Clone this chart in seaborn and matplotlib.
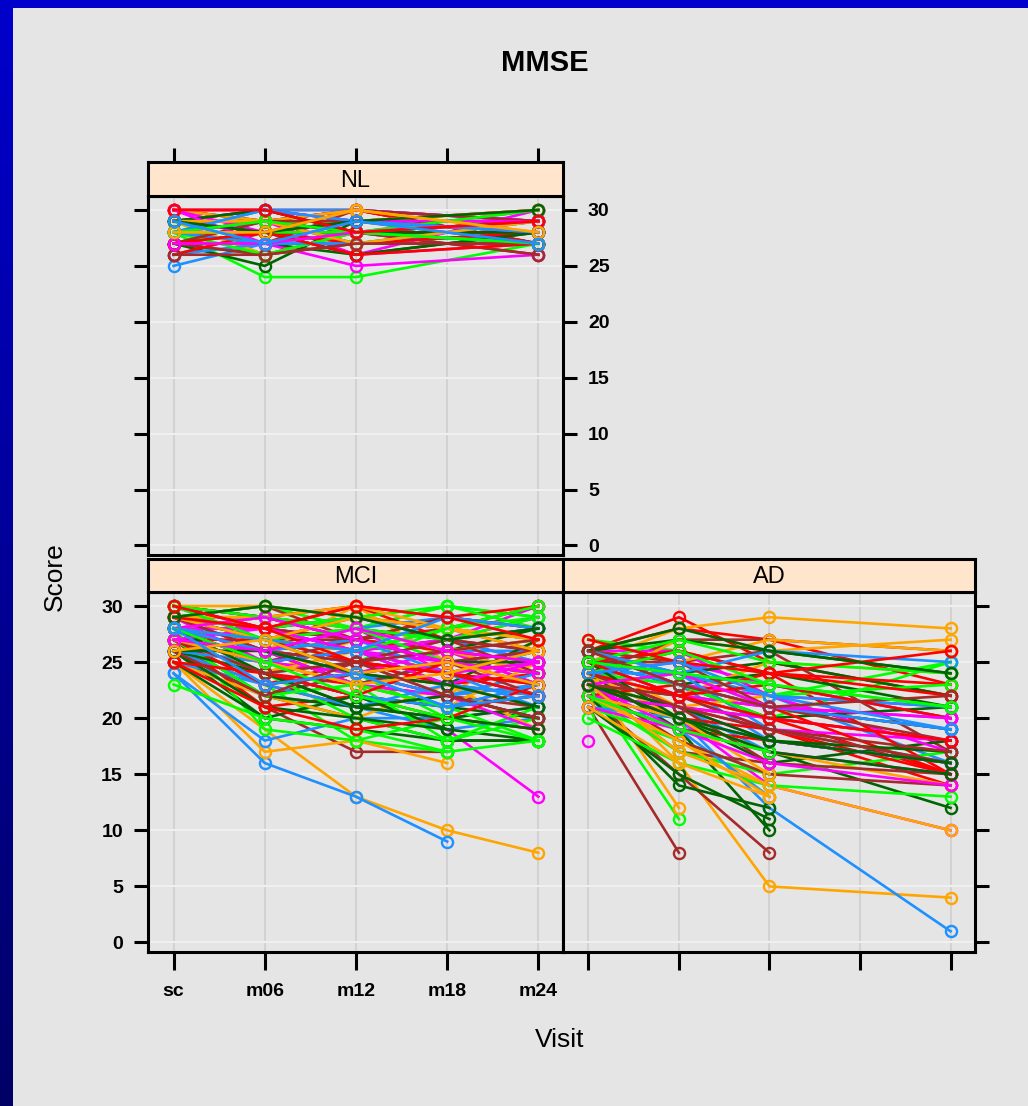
import numpy as np
import pandas as pd
import matplotlib
matplotlib.use("Agg")
import matplotlib.pyplot as plt
from matplotlib.colors import LinearSegmentedColormap
import seaborn as sns

# ---------------- data ----------------
visits = ["sc", "m06", "m12", "m18", "m24"]
nl_visits = ["sc", "m06", "m12", "m24"]
ad_visits = ["sc", "m06", "m12", "m24"]
mci_visits = ["sc", "m06", "m12", "m18", "m24"]

N = None
nl_scores = [
    [30, 30, 30, 29], [29, 28, 29, 30], [25, 27, 28, 28], [30, 29, 30, 27],
    [28, 27, 26, 28], [28, 24, 24, 27], [29, 30, 28, 30], [29, 29, 29, 28],
    [27, 28, 27, 29], [26, 28, 29, 28], [29, 28, 28, 26], [28, 29, 27, 28],
    [29, 26, 27, 29], [28, 28, 26, 27], [28, 29, 28, 27], [27, 28, 29, 28],
    [29, 30, 30, 29], [27, 27, 30, 27], [27, 26, 28, 29], [30, 29, 29, 29],
    [28, 29, 26, 30], [29, 28, 30, 27], [28, 27, 29, 30], [28, 29, 28, 29],
    [29, 30, 29, 28], [27, 25, 29, 28], [28, 27, 28, 28], [27, 27, 25, 26],
    [30, 29, 28, 28], [28, 28, 29, 28], [27, 28, 28, 27], [28, 27, 28, 26],
    [29, 29, 28, 29], [29, 27, 28, 29], [30, 30, 29, 30], [27, 28, 28, 28],
    [29, 26, 28, 29], [26, 27, 27, 28], [27, 26, 27, 27], [28, 28, 29, 29],
    [29, 27, 28, 29], [28, 29, 30, 29], [29, 28, 27, 28], [30, 29, 29, 30],
    [28, 30, 28, 27], [27, 29, 30, 29], [29, 28, 26, 28], [28, 26, 28, 27],
    [30, 28, 29, 29], [26, 28, 28, 29], [29, 29, 30, 28], [28, 27, 27, 29],
    [27, 29, 29, 27], [29, 30, 28, 28], [28, 28, 28, 30], [30, 27, 29, 28],
    [27, 28, 26, 27], [29, 29, 27, 29], [28, 30, 29, 28], [26, 26, 27, 27],
    [29, 28, 29, 30], [28, 29, 28, 27], [27, 27, 28, 29], [30, 30, 28, 29],
    [28, 28, 30, 28], [29, 27, 29, 27],
]

mci_scores = [
    [29, 28, 29, 28, 27], [25, N, 13, 10, 8], [24, 16, 13, 9, N], [26, 21, 17, 17, N],
    [26, 22, 20, 18, 18], [27, 23, 18, 17, N], [27, 24, 22, 19, 13], [28, 26, 25, 24, 23],
    [25, 17, 18, 16, N], [24, 18, 20, 20, 21], [28, 27, 27, 26, 24], [29, 29, 28, 27, 28],
    [28, 25, 24, 20, 19], [30, 28, 29, 27, 30], [27, 24, 23, 22, 20], [26, 26, 30, 25, 26],
    [25, 22, 21, 19, 20], [27, 25, 23, 21, 22], [26, 20, 19, 18, 18], [28, 19, 18, 20, N],
    [29, 27, 26, 27, 25], [27, 21, 22, 20, 19], [28, 26, 27, 25, 25], [29, 28, 26, 28, 27],
    [26, 24, 22, 21, 22], [25, 20, 22, 21, 20], [29, 30, 28, 30, 29], [28, 26, 25, 23, 21],
    [30, 29, 30, 29, 28], [27, 26, 24, 22, 27], [28, 27, 25, 26, 26], [29, 30, 27, 26, 23],
    [27, 25, 26, 24, 26], [28, 27, 28, 30, 29], [29, 28, 27, 25, 24], [26, 23, 25, 23, 24],
    [25, 22, 20, 23, 21], [28, 28, 29, 27, 28], [29, 26, 24, 22, 21], [27, 24, 22, 19, 18],
    [28, 26, 23, 18, 20], [30, 27, 28, 26, 25], [29, 28, 27, 29, 30], [27, 25, 24, 23, 19],
    [26, 24, 25, 22, 23], [28, 27, 26, 24, 22], [27, 26, 23, 25, 24], [29, 30, 29, 28, 29],
    [28, 25, 24, 26, 23], [27, 23, 21, 22, N], [26, 24, 27, 26, 24], [30, 29, 28, 29, 28],
    [28, 26, 27, 28, 26], [27, 22, 21, 20, 21], [29, 27, 25, 28, 27], [26, 25, 24, 22, 20],
    [29, 28, 30, 27, 26], [28, 24, 26, 24, 25], [27, 26, 25, 27, 25], [26, 22, 24, 23, 22],
    [28, 29, 27, 26, 28], [27, 24, 20, 18, 21], [29, 26, 28, 24, 22], [28, 27, 29, 28, 30],
    [26, 25, 23, 21, 25], [25, 23, 24, 22, 24], [27, 26, 23, 25, 22], [28, 25, 26, 23, 27],
    [23, 20, 19, 17, 18], [30, 28, 26, 25, 26], [30, 29, 27, 26, 25], [29, 27, 28, 26, 27],
    [28, 24, 22, 21, 23], [27, 25, 26, 27, 24], [26, 21, 20, 19, N], [29, 28, 29, 30, 28],
    [28, 26, 23, 22, 19], [27, 27, 25, 24, 23], [30, 30, 29, 28, 27], [26, 23, 21, 23, 22],
    [28, 25, 27, 25, 26], [29, 27, 24, 25, 25], [27, 22, 23, 21, 18], [28, 28, 26, 27, 29],
    [25, 21, 19, 20, 23], [29, 29, 28, 26, 27], [27, 26, 27, 24, 21], [30, 28, 27, 29, 28],
    [26, 24, 21, 20, 19], [28, 27, 28, 25, 24], [29, 25, 26, 23, 25], [27, 23, 24, 25, 23],
    [28, 29, 30, 28, 27], [26, 25, 26, 24, 22], [29, 26, 25, 27, 26], [28, 24, 21, 22, 20],
    [30, 29, 28, 27, 29], [27, 28, 26, 24, 25], [25, 24, 22, 25, 24], [29, 27, 29, 28, 26],
    [28, 26, 24, 21, 23], [27, 24, 25, 26, 27], [26, 26, 24, 23, 21], [30, 27, 26, 28, 30],
    [28, 29, 27, 25, 24], [29, 28, 25, 24, 22], [27, 25, 23, 24, 26], [28, 27, 26, 29, 28],
    [26, 22, 25, 22, 20], [29, 30, 29, 27, 28], [28, 25, 22, 20, 18], [27, 26, 28, 26, 25],
    [30, 28, 30, 29, 27], [26, 27, 24, 25, 23], [28, 23, 24, 21, 22],
]

ad_scores = [
    [25, 22, 20, 15], [24, 16, 5, 4], [24, 20, 12, 1], [22, 15, 8, N],
    [24, 19, 10, N], [23, 11, N, N], [18, N, N, N], [26, 29, 25, 22],
    [24, 12, N, N], [25, 24, 22, 16], [21, 8, N, N], [22, 14, 12, N],
    [27, 26, 22, 25], [23, 20, 14, 10], [26, 28, 27, 23], [22, 18, 14, 10],
    [25, 23, 18, 16], [24, 27, 27, 26], [23, 20, 17, 12], [26, 24, 21, 19],
    [24, 25, 23, 20], [23, 21, 19, 14], [25, 28, 29, 28], [22, 21, 17, N],
    [25, 25, 26, 17], [21, 15, 11, N], [24, 22, 20, 25], [26, 26, 22, 21],
    [22, 19, 18, 16], [23, 27, 26, 27], [24, 23, 21, 19], [23, 17, 16, N],
    [25, 24, 25, 22], [22, 17, 15, N], [25, 22, 19, 18], [24, 26, 24, 23],
    [23, 22, 25, 24], [26, 24, 23, 20], [24, 21, 20, 18], [22, 20, 16, 18],
    [21, 18, 15, 17], [25, 23, 22, 17], [23, 20, 19, 15], [26, 25, 27, 26],
    [22, 19, 13, N], [24, 22, 21, 19], [25, 23, 24, 21], [20, 16, 14, 13],
    [24, 21, 18, 16], [23, 22, 24, 15], [24, 20, 17, 14], [25, 24, 19, 16],
    [22, 21, 16, 15], [26, 23, 20, 21], [23, 24, 22, 23], [24, 22, 21, 20],
    [22, 23, 21, 15], [25, 21, 22, N], [21, 20, 18, 16], [23, 18, 15, 14],
    [26, 27, 26, 24], [24, 23, 20, N], [23, 19, 17, 15], [25, 26, 24, 22],
    [22, 20, 15, N], [24, 24, 22, 21], [26, 25, 21, 18], [23, 21, 18, 17],
    [25, 27, 25, 24], [21, 19, 16, 14], [24, 22, 23, 20], [22, 18, 13, N],
    [26, 24, 26, 25], [23, 22, 19, 16], [25, 20, 17, 15], [24, 26, 23, 21],
    [22, 21, 20, 18], [27, 25, 24, 26], [23, 17, 14, N], [25, 23, 21, 19],
    [24, 21, 19, 17], [26, 28, 26, 24], [22, 19, 17, N], [23, 24, 21, 20],
    [25, 22, 20, 18], [21, 16, 13, N], [24, 25, 22, 19], [26, 23, 21, 22],
    [23, 20, 18, 16], [25, 24, 23, 21],
]

line_colors = ["#FF0000", "#FFA500", "#1E90FF", "#A52A2A", "#006400", "#00FF00", "#FF00FF"]
y_ticks = [0, 5, 10, 15, 20, 25, 30]


def to_long(scores, vis, group):
    rows = []
    for i, s in enumerate(scores):
        for v, val in zip(vis, s):
            if val is not None:
                rows.append({"group": group, "subject": f"{group}{i:03d}",
                             "visit": v, "pos": visits.index(v), "score": val})
    return pd.DataFrame(rows)


df = pd.concat([to_long(nl_scores, nl_visits, "NL"),
                to_long(mci_scores, mci_visits, "MCI"),
                to_long(ad_scores, ad_visits, "AD")], ignore_index=True)

# ---------------- figure ----------------
W, H = 1028, 1106
BG = "#E5E5E5"
fig = plt.figure(figsize=(W / 100, H / 100), dpi=100, facecolor=BG)
FONT = ["Liberation Sans", "DejaVu Sans"]
plt.rcParams["font.family"] = FONT


def fr(x0, y0, x1, y1):
    return [x0 / W, 1 - y1 / H, (x1 - x0) / W, (y1 - y0) / H]


XL = (-0.28, 4.27)
YL = (-0.85, 31.25)

panels = {
    "NL": dict(box=(148, 196, 563, 555), strip=(148, 162, 563, 196)),
    "MCI": dict(box=(148, 592, 563, 952), strip=(148, 559, 563, 592)),
    "AD": dict(box=(563, 592, 975, 952), strip=(563, 559, 975, 592)),
}

tick_kw = dict(direction="out", length=10, width=2.2, colors="black")
lab_font = dict(family=FONT, weight="bold", size=14)

for name, p in panels.items():
    ax = fig.add_axes(fr(*p["box"]))
    ax.set_facecolor(BG)
    d = df[df.group == name]
    subs = list(dict.fromkeys(d.subject))
    pal = [line_colors[i % len(line_colors)] for i in range(len(subs))]
    sns.lineplot(data=d, x="pos", y="score", hue="subject", hue_order=subs,
                 palette=pal, estimator=None, legend=False, ax=ax,
                 marker="o", markersize=8, markerfacecolor="none",
                 markeredgewidth=1.7, linewidth=1.9)
    for ln in ax.lines:
        ln.set_markeredgecolor(ln.get_color())
    ax.set_xlim(*XL)
    ax.set_ylim(*YL)
    ax.set_xticks(range(5))
    ax.set_yticks(y_ticks)
    ax.set_axisbelow(True)
    ax.xaxis.grid(True, color="#D2D2D2", lw=1.5)
    ax.yaxis.grid(True, color="#F0F0F0", lw=1.5)
    ax.set_xlabel("")
    ax.set_ylabel("")
    for s in ax.spines.values():
        s.set_linewidth(2.2)
    ax.tick_params(**tick_kw)
    if name == "NL":
        ax.tick_params(axis="x", bottom=False, labelbottom=False)
        ax.tick_params(axis="y", left=True, right=True, labelleft=False,
                       labelright=True, pad=8)
        ax.set_yticklabels([str(t) for t in y_ticks], fontdict=lab_font)
    elif name == "MCI":
        ax.tick_params(axis="x", bottom=True, labelbottom=True, pad=9, length=13)
        ax.set_xticklabels(visits, fontdict=lab_font)
        ax.tick_params(axis="y", left=True, right=False, labelleft=True, pad=8)
        ax.set_yticklabels([str(t) for t in y_ticks], fontdict=lab_font)
    else:
        ax.tick_params(axis="x", bottom=True, labelbottom=False, length=13)
        ax.tick_params(axis="y", left=False, right=True, labelleft=False,
                       labelright=False)

    # strip
    sx = fig.add_axes(fr(*p["strip"]))
    sx.set_facecolor("#FFE5CC")
    sx.set_xlim(*XL)
    sx.set_ylim(0, 1)
    sx.set_yticks([])
    for s in sx.spines.values():
        s.set_linewidth(2.2)
    sx.text(np.mean(XL), 0.45, name, ha="center", va="center", fontsize=17,
            family=FONT)
    if name == "NL":
        sx.set_xticks(range(5))
        sx.tick_params(axis="x", top=True, bottom=False, labeltop=False,
                       labelbottom=False, **tick_kw)
    else:
        sx.set_xticks([])

# titles / labels
fig.text(545 / W, 1 - 63 / H, "MMSE", ha="center", va="center",
         fontsize=21, weight="bold", family=FONT)
fig.text(560 / W, 1 - 1040 / H, "Visit", ha="center", va="center",
         fontsize=19, family=FONT)
fig.text(55 / W, 1 - 577 / H, "Score", ha="center", va="center",
         fontsize=19, rotation=90, family=FONT)

# blue frame (top bar + gradient left bar)
top = fig.add_axes([0, 1 - 8 / H, 1, 8 / H])
top.set_facecolor("#0000CC")
top.set_xticks([]); top.set_yticks([])
for s in top.spines.values():
    s.set_visible(False)
left = fig.add_axes([0, 0, 13 / W, 1])
cmap = LinearSegmentedColormap.from_list("bl", ["#000066", "#0000CC"])
left.imshow(np.linspace(0, 1, 256).reshape(-1, 1), aspect="auto", cmap=cmap,
            origin="lower", extent=[0, 1, 0, 1])
left.set_xticks([]); left.set_yticks([])
for s in left.spines.values():
    s.set_visible(False)

fig.savefig("out.png", dpi=100, facecolor=BG)
